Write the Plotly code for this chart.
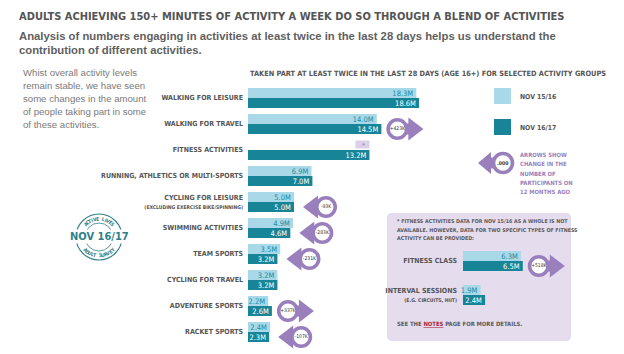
import math
import plotly.graph_objects as go

# ---------------- data ----------------
activities = ["WALKING FOR LEISURE", "WALKING FOR TRAVEL", "FITNESS ACTIVITIES",
              "RUNNING, ATHLETICS OR MULTI-SPORTS", "CYCLING FOR LEISURE",
              "SWIMMING ACTIVITIES", "TEAM SPORTS", "CYCLING FOR TRAVEL",
              "ADVENTURE SPORTS", "RACKET SPORTS"]
activity_notes = ["", "", "", "", "(EXCLUDING EXERCISE BIKE/SPINNING)", "", "", "", "", ""]
nov_15_16 = [18.3, 14.0, None, 6.9, 5.0, 4.9, 3.5, 3.2, 2.2, 2.4]
nov_16_17 = [18.6, 14.5, 13.2, 7.0, 5.0, 4.6, 3.2, 3.2, 2.6, 2.3]
change_k = [None, 423, None, None, -93, -283, -231, None, 337, -107]

fitness_types = ["FITNESS CLASS", "INTERVAL SESSIONS"]
fitness_notes = ["", "(E.G. CIRCUITS, HIIT)"]
fitness_15_16 = [6.3, 1.9]
fitness_16_17 = [6.5, 2.4]
fitness_change_k = [518, None]

# ---------------- style / layout constants ----------------
W, H = 624, 354
NARROW = "Liberation Sans Narrow, Arial Narrow, DejaVu Sans Condensed, sans-serif"
SANS = "Liberation Sans, Arial, sans-serif"
LIGHT = "#a9d9e9"
DARK = "#178597"
PURPLE = "#9a7fbd"
LAV = "#e5dcee"
GREY = "#555555"
TEAL_TXT = "#1b8b9c"

PXU = 9.2            # pixels per million
X0 = 248             # px of zero, main chart
ROW0, ROWH = 98, 26  # px of first row centre, row spacing
X2 = 463             # px of zero, fitness sub-chart
ROW20, ROWH2 = 261, 34
BAR_PX = 10
VAL_SIZE = 7.5
CAT_SIZE = 7.0


def px(x):
    return x / W


def py(y):
    return 1 - y / H


fig = go.Figure()

# ---------------- main bars ----------------
rows = list(range(len(activities)))
bw = BAR_PX / ROWH
ticktext = [a + (f"<br><span style='font-size:5px'>{n}</span>" if n else "")
            for a, n in zip(activities, activity_notes)]

fig.add_trace(go.Bar(
    y=rows, x=nov_15_16, orientation="h", width=bw, offset=-bw,
    marker=dict(color=LIGHT, line=dict(width=0)), name="NOV 15/16",
    texttemplate="%{x:.1f}M", textposition="inside", insidetextanchor="end",
    constraintext="none", textfont=dict(family=NARROW, size=VAL_SIZE, color=TEAL_TXT),
    xaxis="x", yaxis="y", cliponaxis=False, showlegend=False, hoverinfo="skip"))
fig.add_trace(go.Bar(
    y=rows, x=nov_16_17, orientation="h", width=bw, offset=0,
    marker=dict(color=DARK, line=dict(width=0)), name="NOV 16/17",
    texttemplate="%{x:.1f}M", textposition="inside", insidetextanchor="end",
    constraintext="none", textfont=dict(family=NARROW, size=VAL_SIZE, color="white"),
    xaxis="x", yaxis="y", cliponaxis=False, showlegend=False, hoverinfo="skip"))

# "*" marker where NOV 15/16 value is unavailable
missing = [i for i, v in enumerate(nov_15_16) if v is None]
star_w = 14 / PXU
fig.add_trace(go.Bar(
    y=missing, x=[star_w] * len(missing), base=[nov_16_17[i] - star_w for i in missing],
    orientation="h", width=8 / ROWH, offset=-9.5 / ROWH,
    marker=dict(color="#dccfe9", line=dict(width=0)), text=["*"] * len(missing),
    textposition="inside", insidetextanchor="middle", constraintext="none",
    textfont=dict(family=SANS, size=7, color="#8a7aa0"),
    xaxis="x", yaxis="y", showlegend=False, hoverinfo="skip"))

# ---------------- fitness sub-chart ----------------
rows2 = list(range(len(fitness_types)))
bw2 = BAR_PX / ROWH2
ticktext2 = [a + (f"<br><span style='font-size:5px'>{n}</span>" if n else "")
             for a, n in zip(fitness_types, fitness_notes)]
fig.add_trace(go.Bar(
    y=rows2, x=fitness_15_16, orientation="h", width=bw2, offset=-bw2,
    marker=dict(color=LIGHT, line=dict(width=0)),
    texttemplate="%{x:.1f}M", textposition="inside", insidetextanchor="end",
    constraintext="none", textfont=dict(family=NARROW, size=VAL_SIZE, color=TEAL_TXT),
    xaxis="x2", yaxis="y2", cliponaxis=False, showlegend=False, hoverinfo="skip"))
fig.add_trace(go.Bar(
    y=rows2, x=fitness_16_17, orientation="h", width=bw2, offset=0,
    marker=dict(color=DARK, line=dict(width=0)),
    texttemplate="%{x:.1f}M", textposition="inside", insidetextanchor="end",
    constraintext="none", textfont=dict(family=NARROW, size=VAL_SIZE, color="white"),
    xaxis="x2", yaxis="y2", cliponaxis=False, showlegend=False, hoverinfo="skip"))


# ---------------- change arrows ----------------
def add_arrows(rws, ends, changes, bar_w, xa, ya):
    shaft_x, shaft_y, hx, hy, hsym, cx_l, cy_l, lab = [], [], [], [], [], [], [], []
    r = 10
    for rw, e, c in zip(rws, ends, changes):
        if c is None:
            continue
        cy = rw + bar_w / 2
        if c > 0:
            cx = e + 16 / PXU
            tip = cx + 26 / PXU
            hx.append(tip - r / PXU)
            hsym.append("triangle-right")
            shaft_x += [cx, tip - 1.5 * r / PXU + 1 / PXU, None]
            lab.append(f"+{c}K")
        else:
            cx = e + 32 / PXU
            tip = cx - 23 / PXU
            hx.append(tip + r / PXU)
            hsym.append("triangle-left")
            shaft_x += [cx, tip + 1.5 * r / PXU - 1 / PXU, None]
            lab.append(f"{c}K")
        shaft_y += [cy, cy, None]
        hy.append(cy)
        cx_l.append(cx)
        cy_l.append(cy)
    fig.add_trace(go.Scatter(x=shaft_x, y=shaft_y, mode="lines",
                             line=dict(color=PURPLE, width=11), xaxis=xa, yaxis=ya,
                             showlegend=False, hoverinfo="skip", cliponaxis=False))
    fig.add_trace(go.Scatter(x=hx, y=hy, mode="markers",
                             marker=dict(symbol=hsym, size=2 * r, color=PURPLE, line=dict(width=0)),
                             xaxis=xa, yaxis=ya, showlegend=False, hoverinfo="skip", cliponaxis=False))
    fig.add_trace(go.Scatter(x=cx_l, y=cy_l, mode="markers+text", text=lab,
                             textposition="middle center",
                             textfont=dict(family=NARROW, size=5, color="#333333"),
                             marker=dict(symbol="circle", size=18.5, color="white",
                                         line=dict(color=PURPLE, width=3.6)),
                             xaxis=xa, yaxis=ya, showlegend=False, hoverinfo="skip", cliponaxis=False))


add_arrows(rows, nov_16_17, change_k, bw, "x", "y")
add_arrows(rows2, fitness_16_17, fitness_change_k, bw2, "x2", "y2")

# ---------------- axes ----------------
fig.update_layout(
    width=W, height=H, autosize=False,
    margin=dict(l=0, r=0, t=0, b=0),
    paper_bgcolor="white", plot_bgcolor="rgba(0,0,0,0)",
    barmode="overlay",
    xaxis=dict(domain=[px(X0), px(X0 + 40 * PXU)], range=[0, 40], visible=False,
               fixedrange=True),
    yaxis=dict(domain=[0, 1], range=[(H - ROW0) / ROWH, -ROW0 / ROWH],
               tickvals=rows, ticktext=ticktext, ticks="", showgrid=False, zeroline=False,
               showline=False, tickfont=dict(family=NARROW, size=CAT_SIZE, color=GREY, weight="bold"),
               ticklabelstandoff=4, anchor="x"),
    xaxis2=dict(domain=[px(X2), px(X2 + 12 * PXU)], range=[0, 12], visible=False,
                anchor="y2"),
    yaxis2=dict(domain=[0, 1], range=[(H - ROW20) / ROWH2, -ROW20 / ROWH2],
                tickvals=rows2, ticktext=ticktext2, ticks="", showgrid=False, zeroline=False,
                showline=False, tickfont=dict(family=NARROW, size=CAT_SIZE, color=GREY, weight="bold"),
                ticklabelstandoff=5, anchor="x2"),
)

shapes = []
annotations = []


def note(text, x, y, size, color=GREY, family=NARROW, bold=True, xanchor="left",
         yanchor="middle", **kw):
    annotations.append(dict(text=text, x=px(x), y=py(y), xref="paper", yref="paper",
                            xanchor=xanchor, yanchor=yanchor, showarrow=False,
                            font=dict(family=family, size=size, color=color,
                                      weight="bold" if bold else "normal"), **kw))


def rounded_rect(x0, y0, x1, y1, r, fill):
    a, b, c, d = px(x0), py(y0), px(x1), py(y1)
    rx, ry = r / W, r / H
    path = (f"M{a + rx},{b} L{c - rx},{b} Q{c},{b} {c},{b - ry} L{c},{d + ry} "
            f"Q{c},{d} {c - rx},{d} L{a + rx},{d} Q{a},{d} {a},{d + ry} "
            f"L{a},{b - ry} Q{a},{b} {a + rx},{b} Z")
    return dict(type="path", path=path, xref="paper", yref="paper", fillcolor=fill,
                line=dict(width=0), layer="below")


# note box
shapes.append(rounded_rect(387, 213, 571, 341, 5, LAV))

# ---------------- titles & text ----------------
note("ADULTS ACHIEVING 150+ MINUTES OF ACTIVITY A WEEK DO SO THROUGH A BLEND OF ACTIVITIES",
     17, 16, 11.0, color="#545454")
note("Analysis of numbers engaging in activities at least twice in the last 28 days helps us understand the",
     17, 36, 11.3, color="#5f5f5f", family=SANS)
note("contribution of different activities.", 17, 50, 11.3, color="#5f5f5f", family=SANS)

para = ["Whist overall activity levels", "remain stable, we have seen",
        "some changes in the amount", "of people taking part in some",
        "of these activities."]
for i, line in enumerate(para):
    note(line, 21, 72 + 13.2 * i, 9.6, color="#7a7a7a", family=SANS, bold=False)

note("TAKEN PART AT LEAST TWICE IN THE LAST 28 DAYS (AGE 16+) FOR SELECTED ACTIVITY GROUPS",
     248, 73, 7.35, color="#555555")

# legend
shapes.append(dict(type="rect", xref="paper", yref="paper", x0=px(494), x1=px(511),
                   y0=py(104), y1=py(88), fillcolor=LIGHT, line=dict(width=0)))
shapes.append(dict(type="rect", xref="paper", yref="paper", x0=px(494), x1=px(511),
                   y0=py(135), y1=py(119), fillcolor=DARK, line=dict(width=0)))
note("NOV 15/16", 518, 97, 6.8)
note("NOV 16/17", 518, 128, 6.8)

# legend arrow (explanatory)
lcx, lcy = 503, 163
lpath = (f"M{px(lcx)},{py(lcy - 5.5)} L{px(lcx - 12)},{py(lcy - 5.5)} L{px(lcx - 12)},{py(lcy - 11)} "
         f"L{px(lcx - 25)},{py(lcy)} L{px(lcx - 12)},{py(lcy + 11)} L{px(lcx - 12)},{py(lcy + 5.5)} "
         f"L{px(lcx)},{py(lcy + 5.5)} Z")
shapes.append(dict(type="path", path=lpath, xref="paper", yref="paper", fillcolor=PURPLE,
                   line=dict(width=0)))
shapes.append(dict(type="circle", xref="paper", yref="paper", x0=px(lcx - 9.5), x1=px(lcx + 9.5),
                   y0=py(lcy + 9.5), y1=py(lcy - 9.5), fillcolor="white",
                   line=dict(color=PURPLE, width=3.6)))
note(".000", lcx, lcy, 5.2, color="#333333", xanchor="center")
for i, line in enumerate(["ARROWS SHOW", "CHANGE IN THE", "NUMBER OF", "PARTICIPANTS ON",
                          "12 MONTHS AGO"]):
    note(line, 518, 155 + 9.3 * i, 5.9, color=PURPLE)

# note box text
for i, line in enumerate(["* FITNESS ACTIVITIES DATA FOR NOV 15/16 AS A WHOLE IS NOT",
                          "AVAILABLE. HOWEVER, DATA FOR TWO SPECIFIC TYPES OF FITNESS",
                          "ACTIVITY CAN BE PROVIDED:"]):
    note(line, 395, 221 + 8.6 * i, 5.3, color="#5a5a5a")
note("SEE THE <span style='color:#a32238'><u>NOTES</u></span> PAGE FOR MORE DETAILS.",
     395, 324, 5.9, color="#5a5a5a")

# ---------------- badge ----------------
bcx, bcy = 99, 237
TEAL_B = "#2f7f8a"
shapes.append(dict(type="circle", xref="paper", yref="paper", x0=px(bcx - 23), x1=px(bcx + 23),
                   y0=py(bcy + 23), y1=py(bcy - 23), line=dict(color=TEAL_B, width=1.1)))
shapes.append(dict(type="circle", xref="paper", yref="paper", x0=px(bcx - 14), x1=px(bcx + 14),
                   y0=py(bcy + 14), y1=py(bcy - 14), line=dict(color=TEAL_B, width=0.8)))
note("NOV 16/17", bcx, bcy - 1, 11, color=TEAL_B, xanchor="center", bgcolor="white",
     borderpad=0)
for word, top in (("ACTIVE LIVES", True), ("ADULT SURVEY", False)):
    n = len(word)
    span = 100
    for k, ch in enumerate(word):
        if ch == " ":
            continue
        ang = -span / 2 + span * (k + 0.5) / n
        rr = 18.5
        if top:
            x = bcx + rr * math.sin(math.radians(ang))
            y = bcy - rr * math.cos(math.radians(ang))
            ta = ang
        else:
            phi = -ang
            x = bcx - rr * math.sin(math.radians(phi))
            y = bcy + rr * math.cos(math.radians(phi))
            ta = phi
        annotations.append(dict(text=ch, x=px(x), y=py(y), xref="paper", yref="paper",
                                xanchor="center", yanchor="middle", showarrow=False,
                                textangle=ta,
                                font=dict(family=NARROW, size=5, color=TEAL_B, weight="bold")))

fig.update_layout(shapes=shapes, annotations=annotations)
fig.write_html("out.html")
